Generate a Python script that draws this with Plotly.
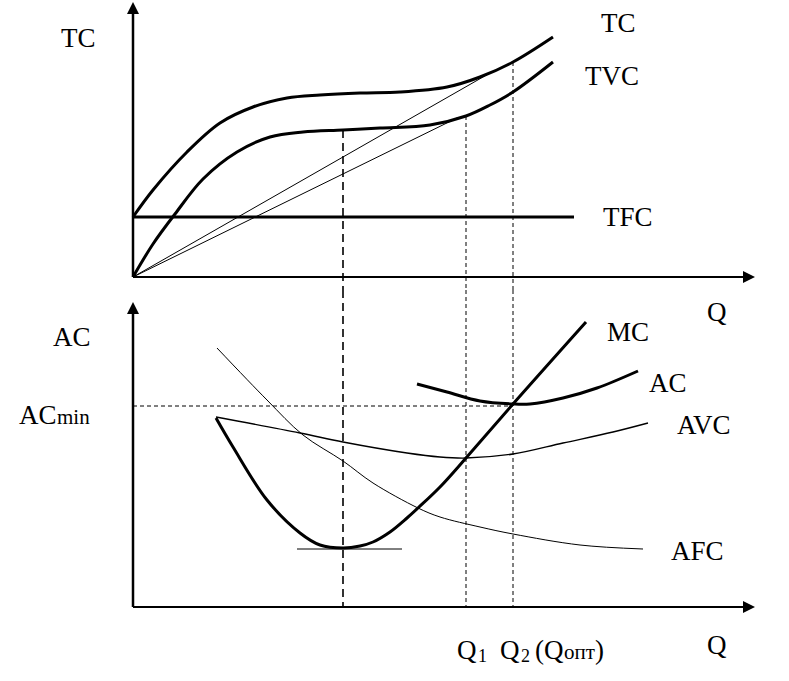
import plotly.graph_objects as go

# Top panel: total costs (Q, cost)
tc_q = [0, 2.0, 5.4, 8.7, 12.0, 15.4, 18.7, 22.7, 26.7, 31.4, 34.7, 38.0, 42.0]
tc_v = [6.0, 8.7, 12.5, 15.4, 17.0, 17.9, 18.2, 18.4, 18.5, 19.0, 20.0, 21.5, 24.0]

tvc_q = [0, 2.0, 4.2, 7.0, 10.4, 13.7, 17.0, 21.0, 24.7, 29.7, 33.3, 35.7, 38.0, 42.0]
tvc_v = [0, 3.3, 6.3, 9.8, 12.5, 14.0, 14.5, 14.7, 14.9, 15.2, 16.1, 17.2, 18.5, 21.5]

tfc_q = [0, 44.1]
tfc_v = [6.0, 6.0]

ray_tc_q = [0, 35.7]
ray_tc_v = [0, 20.4]
ray_tvc_q = [0, 32.4]
ray_tvc_v = [0, 15.9]

# Bottom panel: average and marginal costs
mc_q = [8.3, 10.0, 13.4, 16.7, 18.7, 21.0, 22.7, 24.0, 25.7, 27.4, 28.5, 30.7, 33.3, 38.0, 45.3]
mc_v = [18.9, 16.0, 10.7, 7.4, 6.2, 5.9, 6.1, 6.5, 7.5, 8.9, 9.9, 12.0, 14.9, 20.3, 28.5]

ac_q = [28.4, 31.4, 34.7, 38.0, 39.7, 43.0, 46.4, 50.5]
ac_v = [22.3, 21.5, 20.6, 20.3, 20.3, 20.9, 21.9, 23.6]

avc_q = [8.3, 16.7, 21.0, 27.4, 30.7, 33.3, 38.0, 43.0, 48.0, 51.5]
avc_v = [19.0, 17.4, 16.5, 15.4, 15.0, 14.9, 15.3, 16.4, 17.5, 18.4]

afc_q = [8.4, 13.4, 17.0, 21.0, 24.0, 28.5, 30.7, 34.7, 38.0, 44.7, 51.0]
afc_v = [25.9, 20.7, 17.2, 14.6, 12.4, 9.9, 9.0, 8.0, 7.3, 6.2, 5.8]

mc_min_q = [16.4, 26.9]
mc_min_v = [5.8, 5.8]
ac_min = 20.1

# key outputs and where the dashed guides start in the top panel
q_mc_min, q1, q2 = 21.0, 33.3, 38.0
top_guides = {q_mc_min: 14.7, q1: 16.1, q2: 21.5}

TOP_RANGE = [-1.3, 27.7]
BOT_RANGE = [-7.4, 31.7]
X_RANGE = [-13.3, 65.6]
Q_END = 62.2
TOP_END = 27.5
BOT_END = 30.5

FONT = "Liberation Serif"

fig = go.Figure()


def line(q, v, width, axis="y", dash="solid", shape="spline"):
    fig.add_trace(go.Scatter(
        x=q, y=v, yaxis=axis, mode="lines", hoverinfo="skip",
        line=dict(color="black", width=width, dash=dash, shape=shape),
    ))


line(tc_q, tc_v, 3)
line(tvc_q, tvc_v, 3)
line(tfc_q, tfc_v, 3, shape="linear")
line(ray_tc_q, ray_tc_v, 1, shape="linear")
line(ray_tvc_q, ray_tvc_v, 1, shape="linear")

line(mc_q, mc_v, 3, axis="y2")
line(ac_q, ac_v, 3, axis="y2")
line(avc_q, avc_v, 1.3, axis="y2")
line(afc_q, afc_v, 1, axis="y2")
line(mc_min_q, mc_min_v, 1, axis="y2", shape="linear")
line([0, q2], [ac_min, ac_min], 1, axis="y2", dash="4px,3px", shape="linear")

# dashed verticals running through both panels
for q, start in top_guides.items():
    d = "8px,5px" if q == q_mc_min else "4px,3px"
    w = 1.6 if q == q_mc_min else 1
    line([q, q], [start, TOP_RANGE[0]], w, dash=d, shape="linear")
    line([q, q], [BOT_RANGE[1], 0], w, axis="y2", dash=d, shape="linear")

# axes with arrow heads
for ax, top in (("y", TOP_END), ("y2", BOT_END)):
    line([0, 0], [0, top - 0.5], 2.5, axis=ax, shape="linear")
    line([0, Q_END - 0.5], [0, 0], 2, axis=ax, shape="linear")
    fig.add_trace(go.Scatter(
        x=[0, Q_END], y=[top, 0], yaxis=ax, mode="markers", hoverinfo="skip",
        marker=dict(symbol=["arrow-up", "arrow-right"], size=12, color="black",
                    line=dict(width=0)),
    ))

# (text, x, y, axis, anchor, size) -- subscripts and small letters are separate pieces
labels = [
    ("TC", -5.5, 23.9, "y", "center", 27),
    ("TC", 48.5, 25.4, "y", "center", 27),
    ("TVC", 47.9, 20.1, "y", "center", 27),
    ("TFC", 49.5, 6.0, "y", "center", 27),
    ("Q", 58.4, 29.5, "y2", "center", 27),
    ("AC", -6.1, 27.0, "y2", "center", 27),
    ("AC", -11.6, 19.2, "y2", "left", 27),
    ("min", -7.8, 19.0, "y2", "left", 21),
    ("MC", 49.5, 27.5, "y2", "center", 27),
    ("AC", 53.5, 22.4, "y2", "center", 27),
    ("AVC", 57.1, 18.2, "y2", "center", 27),
    ("AFC", 56.4, 5.6, "y2", "center", 27),
    ("Q", 58.4, -3.8, "y2", "center", 27),
    ("Q", 32.2, -4.3, "y2", "left", 27),
    ("1", 34.3, -4.9, "y2", "left", 18),
    ("Q", 36.5, -4.3, "y2", "left", 27),
    ("2", 38.6, -4.9, "y2", "left", 18),
    ("(Q", 40.0, -4.3, "y2", "left", 27),
    ("опт", 42.9, -4.5, "y2", "left", 21),
    (")", 46.0, -4.3, "y2", "left", 27),
]
for txt, x, y, ref, anchor, size in labels:
    fig.add_annotation(
        x=x, y=y, xref="x", yref=ref, text=txt, showarrow=False,
        xanchor=anchor, yanchor="middle",
        font=dict(family=FONT, size=size, color="black"),
    )

split = 1 - 290 / 681
hidden = dict(visible=False, showgrid=False, zeroline=False, fixedrange=True)
fig.update_layout(
    width=789, height=681, autosize=False,
    margin=dict(l=0, r=0, t=0, b=0),
    paper_bgcolor="white", plot_bgcolor="white",
    showlegend=False,
    xaxis=dict(range=X_RANGE, domain=[0, 1], **hidden),
    yaxis=dict(range=TOP_RANGE, domain=[split, 1], **hidden),
    yaxis2=dict(range=BOT_RANGE, domain=[0, split], **hidden),
)

fig.write_html("out.html", config={"displayModeBar": False},
               post_script="document.body.style.margin = '0';")
